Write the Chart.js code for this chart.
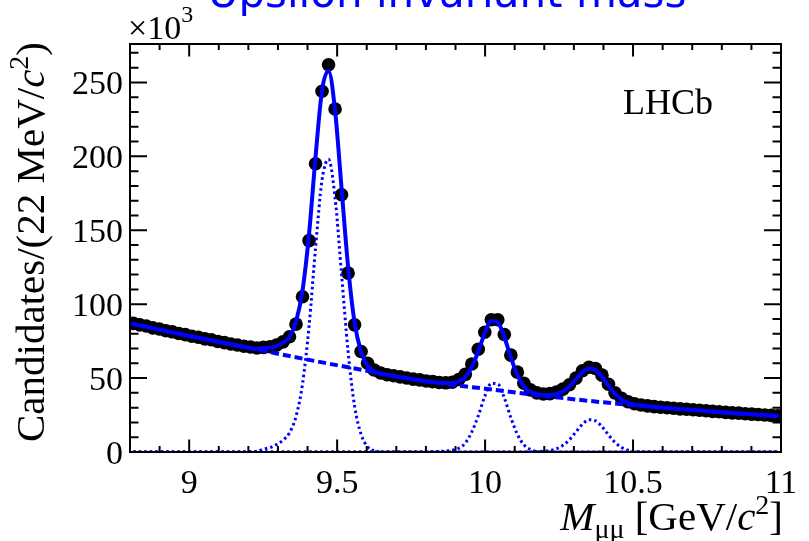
<!DOCTYPE html>
<html>
<head>
<meta charset="utf-8">
<script src="https://cdn.jsdelivr.net/npm/chart.js@4.4.1/dist/chart.umd.min.js"></script>
<style>
  html, body { margin: 0; padding: 0; background: #fff; }
  #wrap { width: 809px; height: 541px; }
</style>
</head>
<body>
<div id="wrap"><canvas id="myChart" width="809" height="541"></canvas></div>
<script>
// 22 MeV bins from 8.8 to 11.0 GeV, values in units of 10^3 candidates
const binLow = 8.8;
const binWidth = 0.022;

const counts = [
  87.0, 86.0, 85.2, 84.0, 83.2, 82.0, 81.3, 80.2, 79.4, 78.3,
  77.6, 76.5, 75.9, 74.8, 74.0, 73.1, 72.4, 71.5, 71.0, 70.4,
  70.8, 71.2, 72.3, 74.5, 78.0, 86.5, 105, 143, 195, 244,
  262, 232, 174, 121, 86, 68, 60, 55.5, 53.4, 52.3,
  51.6, 50.8, 50.1, 49.3, 48.8, 48.0, 47.6, 47.0, 46.8, 47.2,
  49.0, 52.5, 59.5, 69.5, 81.0, 89.5, 89.5, 79.5, 65.5, 54.0,
  46.5, 42.0, 40.0, 39.2, 39.5, 40.5, 42.5, 45.5, 50.0, 55.0,
  57.3, 56.5, 52.0, 45.8, 40.0, 36.3, 34.0, 32.6, 31.8, 31.2,
  30.7, 30.3, 29.9, 29.6, 29.2, 28.9, 28.6, 28.2, 27.9, 27.5,
  27.2, 26.8, 26.5, 26.3, 25.9, 25.6, 25.4, 25.0, 24.8, 24.5
];

const fitTotal = [
  86.5, 85.6, 84.7, 83.7, 82.8, 81.9, 80.9, 80.0, 79.1, 78.1,
  77.3, 76.4, 75.5, 74.6, 73.7, 72.9, 72.0, 71.1, 70.4, 69.8,
  70.5, 70.6, 71.7, 73.8, 77.9, 88.1, 109.2, 147.3, 199.5, 244.7,
  257.8, 231.0, 178.2, 125.4, 87.5, 67.7, 58.4, 54.5, 52.9, 52.1,
  51.3, 50.6, 49.9, 49.2, 48.5, 47.8, 47.3, 46.9, 46.6, 46.5,
  47.8, 50.7, 57.6, 68.0, 80.5, 88.7, 87.7, 77.8, 64.0, 52.1,
  44.5, 40.6, 39.2, 38.4, 38.5, 39.2, 41.0, 44.3, 49.2, 53.9,
  56.5, 55.3, 50.8, 44.9, 39.4, 35.6, 33.3, 32.1, 31.4, 31.0,
  30.5, 30.1, 29.8, 29.4, 29.1, 28.8, 28.4, 28.1, 27.7, 27.4,
  27.0, 26.7, 26.4, 26.1, 25.8, 25.5, 25.2, 24.9, 24.6, 24.3
];

const ups1S = [
  0, 0, 0, 0, 0, 0, 0, 0, 0, 0,
  0, 0, 0, 0, 0, 0, 0, 0, 0.2, 0.5,
  2, 3, 5, 8, 13, 24, 46, 85, 138, 184,
  198, 172, 120, 68, 31, 12, 3.5, 0.8, 0.1, 0,
  0, 0, 0, 0, 0, 0, 0, 0, 0, 0,
  0, 0, 0, 0, 0, 0, 0, 0, 0, 0,
  0, 0, 0, 0, 0, 0, 0, 0, 0, 0,
  0, 0, 0, 0, 0, 0, 0, 0, 0, 0,
  0, 0, 0, 0, 0, 0, 0, 0, 0, 0,
  0, 0, 0, 0, 0, 0, 0, 0, 0, 0
];

const ups2S = [
  0, 0, 0, 0, 0, 0, 0, 0, 0, 0,
  0, 0, 0, 0, 0, 0, 0, 0, 0, 0,
  0, 0, 0, 0, 0, 0, 0, 0, 0, 0,
  0, 0, 0, 0, 0, 0, 0, 0, 0, 0,
  0, 0, 0, 0, 0, 0, 0.2, 0.4, 0.7, 1.2,
  2.5, 6, 13.5, 24.5, 37.7, 46.4, 46, 36.6, 23.3, 12,
  4.9, 1.6, 0.4, 0.1, 0, 0, 0, 0, 0, 0,
  0, 0, 0, 0, 0, 0, 0, 0, 0, 0,
  0, 0, 0, 0, 0, 0, 0, 0, 0, 0,
  0, 0, 0, 0, 0, 0, 0, 0, 0, 0
];

const ups3S = [
  0, 0, 0, 0, 0, 0, 0, 0, 0, 0,
  0, 0, 0, 0, 0, 0, 0, 0, 0, 0,
  0, 0, 0, 0, 0, 0, 0, 0, 0, 0,
  0, 0, 0, 0, 0, 0, 0, 0, 0, 0,
  0, 0, 0, 0, 0, 0, 0, 0, 0, 0,
  0, 0, 0, 0, 0, 0, 0, 0, 0, 0,
  0, 0, 0.3, 0.5, 1, 2.2, 4.5, 8.2, 13.6, 18.8,
  21.8, 21.1, 17.1, 11.6, 6.5, 3.1, 1.2, 0.4, 0.1, 0,
  0, 0, 0, 0, 0, 0, 0, 0, 0, 0,
  0, 0, 0, 0, 0, 0, 0, 0, 0, 0
];

// combinatorial background, sampled every 200 MeV
const bkgMass = [8.8, 9.0, 9.2, 9.4, 9.6, 9.8, 10.0, 10.2, 10.4, 10.6, 10.8, 11.0];
const bkgFit = [87.0, 78.5, 70.5, 62.5, 55.0, 47.8, 42.8, 37.9, 33.6, 30.0, 26.9, 24.2];

const xTicks = [9, 9.5, 10, 10.5, 11];
const yTicks = [0, 50, 100, 150, 200, 250];

const massBins = counts.map((_, i) => +(binLow + binWidth * (i + 0.5)).toFixed(4));
const pts = arr => arr.map((v, i) => ({ x: massBins[i], y: v }));

const BLUE = '#0000ff';
const SERIF = '"Liberation Serif", "Times New Roman", serif';

function drawRich(ctx, parts, x, y, align) {
  let w = 0;
  parts.forEach(p => { ctx.font = p[1]; w += ctx.measureText(p[0]).width; });
  let cx = align === 'right' ? x - w : (align === 'center' ? x - w / 2 : x);
  ctx.textAlign = 'left';
  parts.forEach(p => {
    ctx.font = p[1];
    ctx.fillText(p[0], cx, y + (p[2] || 0));
    cx += ctx.measureText(p[0]).width;
  });
}

const rootFrame = {
  id: 'rootFrame',
  afterDraw(chart) {
    const { ctx, chartArea: a, scales: { x, y } } = chart;
    ctx.save();
    ctx.strokeStyle = '#000';
    ctx.lineWidth = 2;
    ctx.strokeRect(a.left, a.top, a.right - a.left, a.bottom - a.top);

    // ticks inside the frame, ROOT style
    ctx.beginPath();
    for (let k = 88; k <= 110; k++) {
      const px = x.getPixelForValue(k / 10);
      const len = k % 5 === 0 ? 12.5 : 6;
      ctx.moveTo(px, a.bottom); ctx.lineTo(px, a.bottom - len);
      ctx.moveTo(px, a.top); ctx.lineTo(px, a.top + len);
    }
    for (let k = 0; k <= 270; k += 10) {
      const py = y.getPixelForValue(k);
      const len = k % 50 === 0 ? 17 : 8.5;
      ctx.moveTo(a.left, py); ctx.lineTo(a.left + len, py);
      ctx.moveTo(a.right, py); ctx.lineTo(a.right - len, py);
    }
    ctx.stroke();

    ctx.fillStyle = '#000';
    ctx.font = '34px ' + SERIF;
    ctx.textAlign = 'right';
    yTicks.forEach(v => ctx.fillText(String(v), a.left - 7, y.getPixelForValue(v) + 12));
    ctx.textAlign = 'center';
    xTicks.forEach(v => ctx.fillText(String(v), x.getPixelForValue(v), 493));

    // exponent label
    drawRich(ctx, [['\u00d710', '34px ' + SERIF], ['3', '24px ' + SERIF, -17]], 128, 39, 'left');

    // x title
    drawRich(ctx, [
      ['M', 'italic 41px ' + SERIF],
      ['\u03bc\u03bc', '28px ' + SERIF, 8],
      [' [GeV/', '41px ' + SERIF],
      ['c', 'italic 41px ' + SERIF],
      ['2', '28px ' + SERIF, -16],
      [']', '41px ' + SERIF]
    ], 783, 530, 'right');

    // y title
    ctx.save();
    ctx.translate(44, 42);
    ctx.rotate(-Math.PI / 2);
    drawRich(ctx, [
      ['Candidates/(22 MeV/', '41px ' + SERIF],
      ['c', 'italic 41px ' + SERIF],
      ['2', '28px ' + SERIF, -16],
      [')', '41px ' + SERIF]
    ], 0, 0, 'right');
    ctx.restore();

    ctx.font = '36px ' + SERIF;
    ctx.textAlign = 'left';
    ctx.fillText('LHCb', 623, 114);

    ctx.fillStyle = BLUE;
    ctx.font = '42px "DejaVu Sans"';
    ctx.textAlign = 'center';
    ctx.fillText('Upsilon invariant mass', 447, 7);
    ctx.restore();
  }
};

const ctx = document.getElementById('myChart');

const dotted = {
  showLine: true,
  borderColor: BLUE,
  borderWidth: 3,
  borderDash: [2.5, 3],
  pointRadius: 0,
  cubicInterpolationMode: 'monotone'
};

new Chart(ctx, {
  type: 'scatter',
  data: {
    datasets: [
      {
        label: 'Total fit',
        data: pts(fitTotal),
        showLine: true,
        borderColor: BLUE,
        borderWidth: 4,
        pointRadius: 0,
        cubicInterpolationMode: 'monotone'
      },
      {
        label: 'Background',
        data: bkgMass.map((m, i) => ({ x: m, y: bkgFit[i] })),
        showLine: true,
        borderColor: BLUE,
        borderWidth: 4,
        borderDash: [8, 4],
        pointRadius: 0,
        cubicInterpolationMode: 'monotone'
      },
      Object.assign({ label: 'Y(1S)', data: pts(ups1S) }, dotted),
      Object.assign({ label: 'Y(2S)', data: pts(ups2S) }, dotted),
      Object.assign({ label: 'Y(3S)', data: pts(ups3S) }, dotted),
      {
        label: 'Data',
        data: pts(counts),
        pointRadius: 6.8,
        pointBackgroundColor: '#000',
        pointBorderWidth: 0,
        borderColor: '#000'
      }
    ]
  },
  options: {
    responsive: false,
    animation: false,
    devicePixelRatio: 1,
    layout: { padding: { left: 130, top: 44, right: 28, bottom: 89 } },
    plugins: { legend: { display: false }, tooltip: { enabled: false } },
    scales: {
      x: { type: 'linear', min: 8.8, max: 11, display: false },
      y: { type: 'linear', min: 0, max: 276, display: false }
    }
  },
  plugins: [rootFrame]
});
</script>
</body>
</html>
